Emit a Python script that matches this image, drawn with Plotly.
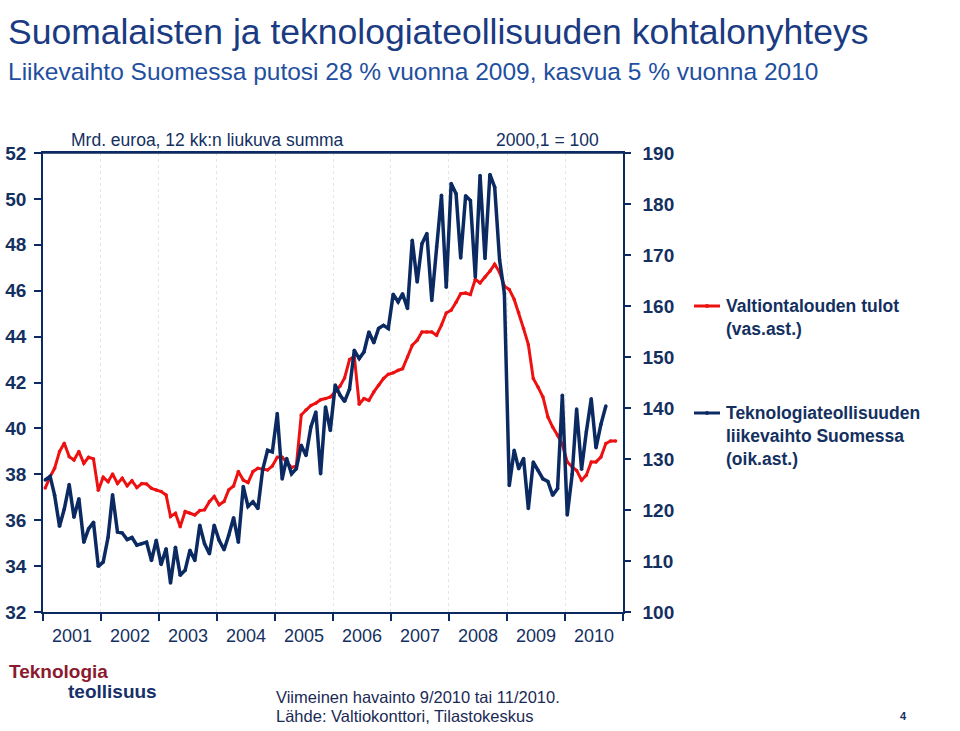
import plotly.graph_objects as go

# ---- data: monthly, starting Jan 2001 ----
valtio_tulot = [  # Valtiontalouden tulot, mrd. euroa (left axis), Jan 2001 - Nov 2010
    37.4, 37.9, 38.26, 38.99, 39.35, 38.77, 38.62, 38.99, 38.48, 38.74, 38.67, 37.3,
    37.87, 37.68, 38.01, 37.6, 37.83, 37.5, 37.72, 37.42, 37.6, 37.58, 37.39, 37.32,
    37.25, 37.1, 36.16, 36.3, 35.72, 36.38, 36.3, 36.23, 36.42, 36.45, 36.81, 37.03,
    36.67, 36.81, 37.32, 37.49, 38.12, 37.75, 37.64, 38.12, 38.26, 38.22, 38.19, 38.36,
    38.74, 38.74, 38.55, 38.3, 38.36, 40.58, 40.8, 41.0, 41.1, 41.25, 41.3, 41.37,
    41.6, 41.85, 42.2, 43.0, 43.15, 41.05, 41.3, 41.22, 41.59, 41.88, 42.17, 42.36,
    42.42, 42.53, 42.6, 43.11, 43.62, 43.84, 44.2, 44.2, 44.2, 44.06, 44.5, 45.03,
    45.15, 45.5, 45.87, 45.9, 45.83, 46.5, 46.34, 46.6, 46.85, 47.15, 46.8, 46.2,
    46.05, 45.62, 45.05, 44.35, 43.65, 42.17, 41.8, 41.37, 40.5, 40.06, 39.7, 39.3,
    38.54, 38.32, 38.17, 37.74, 37.96, 38.54, 38.54, 38.75, 39.34, 39.45, 39.45,
]
tekno_liikevaihto = [  # Teknologiateollisuuden liikevaihto, 2000,1 = 100 (right axis), Jan 2001 - Sep 2010
    125.9, 126.6, 122.9, 116.8, 120.2, 125.0, 118.6, 122.2, 113.7, 116.3, 117.6, 108.95,
    109.8, 114.7, 123.0, 115.7, 115.5, 114.2, 114.6, 113.1, 113.4, 113.7, 110.1, 114.05,
    109.3, 112.4, 105.7, 112.7, 107.2, 108.2, 112.1, 110.1, 117.0, 113.4, 111.4, 117.0,
    114.05, 112.2, 115.0, 118.5, 113.7, 124.6, 120.7, 121.6, 120.3, 127.9, 131.7, 131.4,
    138.9, 126.1, 130.1, 127.1, 128.1, 132.7, 130.7, 136.3, 139.2, 127.1, 140.2, 135.6,
    144.5, 142.5, 141.3, 143.7, 151.3, 149.7, 151.0, 154.9, 152.8, 155.6, 156.2, 155.6,
    162.3, 160.8, 162.4, 159.5, 172.9, 164.7, 172.2, 174.2, 161.1, 171.6, 181.7, 163.7,
    184.0, 182.0, 169.4, 181.6, 180.7, 165.7, 185.6, 169.3, 185.8, 183.3, 169.0, 162.5,
    124.8, 131.7, 128.1, 130.1, 120.3, 129.4, 127.8, 126.1, 125.6, 122.9, 124.2, 142.5,
    119.0, 127.0, 139.8, 128.0, 135.3, 141.8, 132.2, 136.8, 140.4,
]
start_year = 2001
left_ticks = [32, 34, 36, 38, 40, 42, 44, 46, 48, 50, 52]
right_ticks = [100, 110, 120, 130, 140, 150, 160, 170, 180, 190]


def month_dates(n):
    return [f"{start_year + i // 12}-{i % 12 + 1:02d}-15" for i in range(n)]


RED = "#ee1111"
NAVY = "#0c2a62"
TXT = "#14305f"

W, H = 960, 731
ML, MR, MT, MB = 43, 337, 153, 119

fig = go.Figure()
fig.add_trace(go.Scatter(
    x=month_dates(len(valtio_tulot)), y=valtio_tulot, mode="lines+markers",
    line=dict(color=RED, width=3), marker=dict(size=3.5, color=RED),
    name="Valtiontalouden tulot (vas.ast.)", yaxis="y", showlegend=False))
fig.add_trace(go.Scatter(
    x=month_dates(len(tekno_liikevaihto)), y=tekno_liikevaihto, mode="lines+markers",
    line=dict(color=NAVY, width=3.5), marker=dict(size=3.5, color=NAVY),
    name="Teknologiateollisuuden liikevaihto Suomessa (oik.ast.)", yaxis="y2", showlegend=False))

axis_font = dict(family="Liberation Sans, Arial, sans-serif", size=19, color=TXT)

fig.update_layout(
    width=W, height=H,
    margin=dict(l=ML, r=MR, t=MT, b=MB, autoexpand=False),
    paper_bgcolor="white", plot_bgcolor="white",
    font=dict(family="Liberation Sans, Arial, sans-serif", color=TXT),
    xaxis=dict(
        type="date", range=["2001-01-01", "2011-01-01"], automargin=False,
        tick0="2001-01-01", dtick="M12", tickformat="%Y", ticklabelmode="period",
        ticks="outside", ticklen=7, tickwidth=1.5, tickcolor=NAVY,
        showline=True, linecolor=NAVY, linewidth=1.5, mirror=True,
        showgrid=True, gridcolor="#e6e6e6", griddash="dot", gridwidth=1,
        tickfont=dict(family="Liberation Sans, Arial, sans-serif", size=18, color=TXT),
        zeroline=False,
    ),
    yaxis=dict(
        range=[32, 52], tickvals=left_ticks, ticks="outside", ticklen=7, automargin=False,
        tickcolor=NAVY, tickwidth=1.5, showline=True, linecolor=NAVY, linewidth=1.5,
        showgrid=False, zeroline=False, tickfont=dict(axis_font, weight="bold"),
        ticklabelstandoff=4,
    ),
    yaxis2=dict(
        range=[100, 190], tickvals=right_ticks, overlaying="y", side="right", automargin=False,
        ticks="outside", ticklen=6, tickcolor=NAVY, tickwidth=1.5,
        showline=True, linecolor=NAVY, linewidth=1.5, showgrid=False, zeroline=False,
        tickfont=dict(axis_font, weight="bold"), ticklabelstandoff=8,
    ),
)


def px_x(v):
    return (v - ML) / (W - ML - MR)


def px_y(v):
    return (H - v - MB) / (H - MT - MB)


# top line extends over the tick length on the left
fig.add_shape(type="line", xref="paper", yref="paper", x0=px_x(36.5), x1=1, y0=1, y1=1,
              line=dict(color=NAVY, width=1.5))

ann = []
# Titles
ann.append(dict(text="Suomalaisten ja teknologiateollisuuden kohtalonyhteys",
                x=6, y=32, font=dict(size=35.5, color="#1a3a82")))
ann.append(dict(text="Liikevaihto Suomessa putosi 28 % vuonna 2009, kasvua 5 % vuonna 2010",
                x=6, y=72, font=dict(size=24.5, color="#1f4fa0")))
ann.append(dict(text="Mrd. euroa, 12 kk:n liukuva summa", x=69, y=140,
                font=dict(size=17.5, color=TXT)))
ann.append(dict(text="2000,1 = 100", x=601, y=140, xanchor="right",
                font=dict(size=17.5, color=TXT)))
# Legend text
leg_font = dict(family="Liberation Sans Narrow, Arial Narrow, sans-serif", size=17.5,
                color=TXT, weight="bold")
ann.append(dict(text="Valtiontalouden tulot<br>(vas.ast.)", x=724, y=294,
                yanchor="top", font=leg_font))
ann.append(dict(text="Teknologiateollisuuden<br>liikevaihto Suomessa<br>(oik.ast.)",
                x=724, y=401, yanchor="top", font=leg_font))
# Logo
ann.append(dict(text="<b>Teknologia</b>", x=7, y=671,
                font=dict(family="Liberation Sans, Arial, sans-serif", size=19, color="#8c1a2e")))
ann.append(dict(text="<b>teollisuus</b>", x=66, y=691,
                font=dict(family="Liberation Sans, Arial, sans-serif", size=19, color="#17306a")))
# Footer
foot_font = dict(family="Liberation Sans Narrow, Arial Narrow, sans-serif", size=16.5, color="#1b2a55")
ann.append(dict(text="Viimeinen havainto 9/2010 tai 11/2010.", x=274, y=697, font=foot_font))
ann.append(dict(text="Lähde: Valtiokonttori, Tilastokeskus", x=274, y=716, font=foot_font))
ann.append(dict(text="<b>4</b>", x=903, y=716, xanchor="center",
                font=dict(size=11, color=TXT)))

for a in ann:
    a.setdefault("xanchor", "left")
    a.setdefault("yanchor", "middle")
    a["x"] = px_x(a["x"])
    a["y"] = px_y(a["y"])
    fig.add_annotation(xref="paper", yref="paper", showarrow=False, align="left", **a)

# Legend samples (line with a small marker)
for ypix, col in [(306, RED), (413, NAVY)]:
    fig.add_shape(type="line", xref="paper", yref="paper", x0=px_x(694), x1=px_x(720),
                  y0=px_y(ypix), y1=px_y(ypix), line=dict(color=col, width=3))
    fig.add_shape(type="circle", xref="paper", yref="paper", x0=px_x(705), x1=px_x(709),
                  y0=px_y(ypix - 2), y1=px_y(ypix + 2), fillcolor=col, line=dict(color=col, width=0))

fig.write_html("out.html", config={"displayModeBar": False},
               post_script="document.body.style.margin='0px';")
